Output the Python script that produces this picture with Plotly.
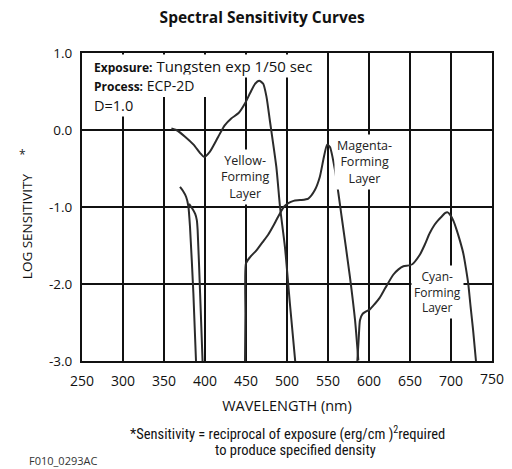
import plotly.graph_objects as go

# ---------------- data ----------------
yellow_nm = [359, 365, 376, 386, 394, 399, 406, 416, 424, 432, 441, 449, 455, 461, 466, 471, 475, 479, 487, 491.5, 497.5, 503.5, 510]
yellow_val = [0.02, 0.0, -0.09, -0.19, -0.30, -0.35, -0.28, -0.09, 0.06, 0.15, 0.22, 0.35, 0.48, 0.60, 0.64, 0.60, 0.43, 0.13, -0.48, -1.0, -1.52, -2.25, -3.0]

edge_a_nm = [369.5, 373, 377, 379.7, 381.7, 385.8, 389]
edge_a_val = [-0.74, -0.79, -0.87, -0.99, -1.26, -2.12, -3.0]
edge_b_nm = [380.5, 385, 388, 390, 391, 394, 397]
edge_b_val = [-0.96, -1.03, -1.09, -1.17, -1.3, -2.12, -3.0]

magenta_nm = [448.8, 449.3, 450, 455, 463, 470, 477, 483, 487, 491.5, 496, 501.6, 508, 516, 526, 534, 540, 545, 549, 552.4, 558.5, 566.7, 576.8, 583, 587]
magenta_val = [-3.0, -2.4, -1.73, -1.65, -1.56, -1.46, -1.36, -1.25, -1.17, -1.08, -1.0, -0.95, -0.92, -0.91, -0.89, -0.78, -0.61, -0.35, -0.19, -0.22, -0.52, -1.13, -1.91, -2.47, -2.99]

cyan_nm = [585.8, 587.5, 589, 592, 596, 601, 607, 613, 620, 629.6, 636, 642, 652, 662, 668, 674, 680, 684.5, 689, 692.7, 696, 698.8, 703, 707, 711, 715, 718, 721, 724, 727, 730.5]
cyan_val = [-3.0, -2.7, -2.47, -2.39, -2.36, -2.33, -2.26, -2.18, -2.05, -1.88, -1.81, -1.77, -1.75, -1.62, -1.49, -1.34, -1.23, -1.17, -1.12, -1.08, -1.07, -1.10, -1.18, -1.30, -1.44, -1.60, -1.78, -1.99, -2.3, -2.60, -3.0]

x_ticks = [250, 300, 350, 400, 450, 500, 550, 600, 650, 700, 750]
x_tick_text = ["250", "300", "350", "400", "450", "500", "550", "600", "650", "700", "750"]
y_ticks = [-3.0, -2.0, -1.0, 0.0, 1.0]
y_tick_text = ["-3.0", "-2.0", "-1.0", "0.0", "1.0"]

FONT = "Open Sans, Noto Sans, sans-serif"
NARROW = "Liberation Sans Narrow, Roboto Condensed, Roboto, sans-serif"
CURVE = "#2b2b2b"

fig = go.Figure()
for xs, ys in [(yellow_nm, yellow_val), (edge_a_nm, edge_a_val), (edge_b_nm, edge_b_val),
               (magenta_nm, magenta_val), (cyan_nm, cyan_val)]:
    fig.add_trace(go.Scatter(x=xs, y=ys, mode="lines", line=dict(color=CURVE, width=2, shape="spline", smoothing=0.6),
                             showlegend=False, hoverinfo="skip"))

annotations = []
# header block
annotations.append(dict(xref="paper", yref="paper", x=0.0244, y=0.958, xanchor="left", yanchor="middle",
                        text="<b><span style='font-size:12px'>Exposure:</span></b> Tungsten exp 1/50 sec",
                        showarrow=False, font=dict(family=FONT, size=15, color="#111"), bgcolor="white", borderpad=1))
annotations.append(dict(xref="paper", yref="paper", x=0.0244, y=0.893, xanchor="left", yanchor="middle",
                        text="<b><span style='font-size:12px'>Process:</span></b> ECP-2D",
                        showarrow=False, font=dict(family=FONT, size=14, color="#111"), bgcolor="white", borderpad=1))
annotations.append(dict(xref="paper", yref="paper", x=0.0244, y=0.831, xanchor="left", yanchor="middle",
                        text="D=1.0", showarrow=False, font=dict(family=FONT, size=14.5, color="#111"),
                        bgcolor="white", borderpad=1))
# layer labels
for txt, x, y, sz in [("Yellow-<br>Forming<br>Layer", 449, -0.61, 12.5),
                      ("Magenta-<br>Forming<br>Layer", 595, -0.415, 12.5),
                      ("Cyan-<br>Forming<br>Layer", 683, -2.10, 12)]:
    annotations.append(dict(xref="x", yref="y", x=x, y=y, text=txt, showarrow=False, align="center",
                            font=dict(family=FONT, size=sz, color="#222"), bgcolor="white", borderpad=2))
# last x tick label (plotly drops the label sitting on the right border)
annotations.append(dict(xref="x", yref="paper", x=x_ticks[-1], y=-0.058, xanchor="center", yanchor="middle",
                        text=x_tick_text[-1], showarrow=False, font=dict(family=FONT, size=14, color="#111")))
# y-axis title + asterisk
annotations.append(dict(xref="paper", yref="paper", x=-0.134, y=0.438, xanchor="center", yanchor="middle",
                        text="LOG SENSITIVITY", textangle=-90, showarrow=False,
                        font=dict(family=FONT, size=13.5, color="#111")))
annotations.append(dict(xref="paper", yref="paper", x=-0.146, y=0.672, xanchor="center", yanchor="middle",
                        text="*", showarrow=False, font=dict(family=FONT, size=12, color="#222")))
# footnote
annotations.append(dict(xref="paper", yref="paper", x=0.502, y=-0.234, xanchor="center", yanchor="middle",
                        text="*Sensitivity = reciprocal of exposure (erg/cm )<sup>2</sup>required",
                        showarrow=False, font=dict(family=NARROW, size=14.5, color="#111")))
annotations.append(dict(xref="paper", yref="paper", x=0.52, y=-0.289, xanchor="center", yanchor="middle",
                        text="to produce specified density",
                        showarrow=False, font=dict(family=NARROW, size=14.5, color="#111")))
annotations.append(dict(xref="paper", yref="paper", x=-0.134, y=-0.323, xanchor="left", yanchor="middle",
                        text="F010_0293AC", showarrow=False, font=dict(family=FONT, size=11, color="#333")))

fig.update_layout(
    width=512, height=469,
    margin=dict(l=82, r=20, t=53, b=108),
    paper_bgcolor="white", plot_bgcolor="white",
    title=dict(text="<b>Spectral Sensitivity Curves</b>", x=0.512, y=0.962, xanchor="center", yanchor="middle",
               xref="container", yref="container", font=dict(family=FONT, size=15.5, color="#111")),
    font=dict(family=FONT, color="#111"),
    annotations=annotations,
    shapes=[dict(type="rect", xref="x", yref="y", x0=255, x1=405, y0=0.43, y1=0.94,
                 fillcolor="white", line=dict(width=0), layer="between")],
)
fig.update_xaxes(range=[249.95, 750.05], tickmode="array", tickvals=x_ticks[:-1], ticktext=x_tick_text[:-1],
                 showgrid=True, gridcolor="#111", gridwidth=2,
                 showline=True, linecolor="#111", linewidth=2, mirror=True, zeroline=False,
                 ticks="outside", ticklen=6, tickcolor="rgba(0,0,0,0)",
                 tickfont=dict(family=FONT, size=14, color="#111"),
                 title=dict(text="WAVELENGTH (nm)", font=dict(family=FONT, size=14.5, color="#111"), standoff=12))
fig.update_yaxes(range=[-3, 1], tickvals=y_ticks, ticktext=y_tick_text, showgrid=True, gridcolor="#111", gridwidth=2,
                 showline=True, linecolor="#111", linewidth=2, mirror=True, zeroline=False, ticks="",
                 ticklabelstandoff=5, tickfont=dict(family=FONT, size=13.5, color="#111"))

fig.write_html("out.html")
